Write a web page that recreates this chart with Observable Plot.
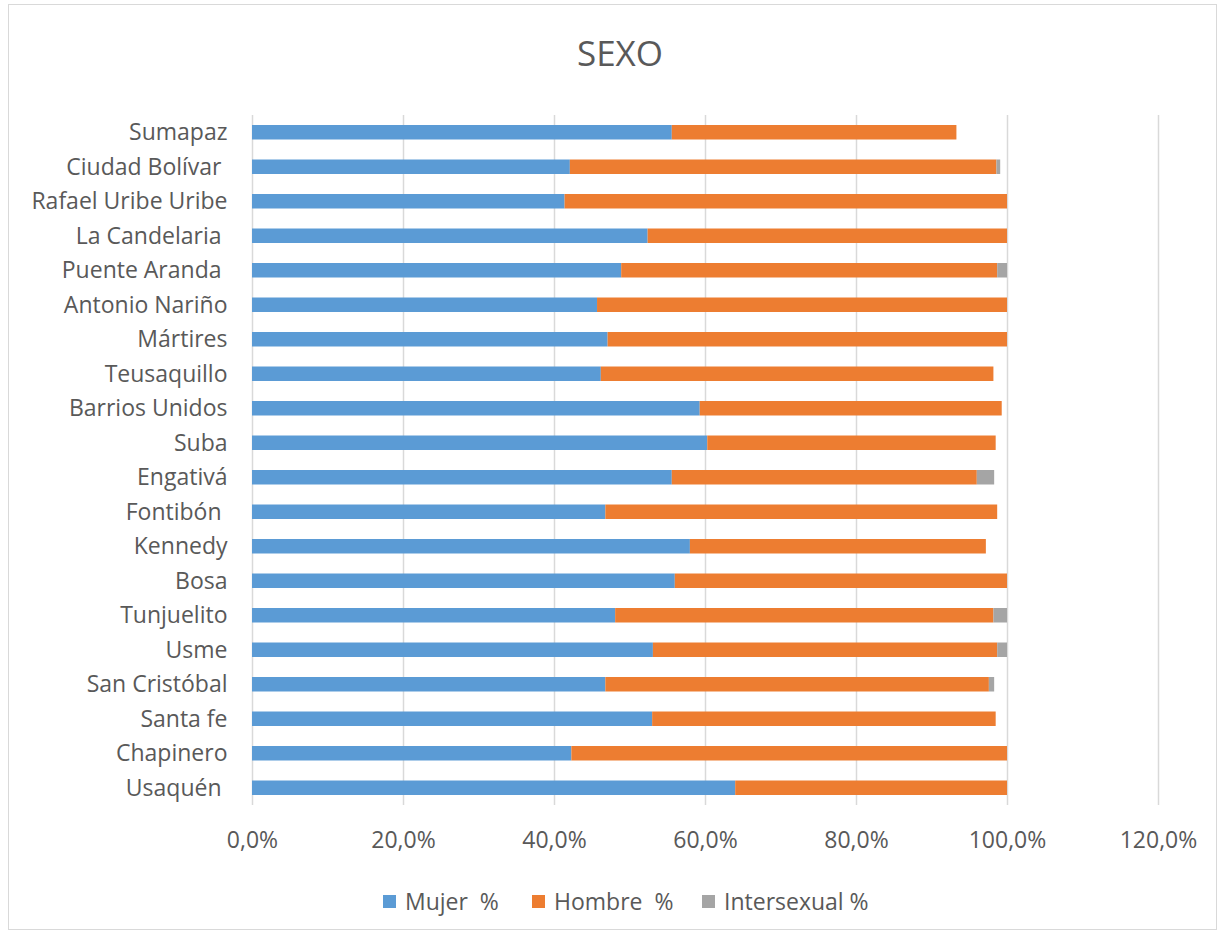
<!DOCTYPE html>
<html>
<head>
<meta charset="utf-8">
<script src="https://cdn.jsdelivr.net/npm/d3@7"></script>
<script src="https://cdn.jsdelivr.net/npm/@observablehq/plot@0.6"></script>
<style>
  html, body { margin: 0; padding: 0; background: #fff; }
  #wrap { position: relative; width: 1227px; height: 938px; font-family: "Open Sans", Lato, sans-serif; color: #595959; }
  #frame { position: absolute; left: 8px; top: 4px; width: 1209px; height: 926px; border: 1px solid #d9d9d9; box-sizing: border-box; }
  #title { position: absolute; left: 0; width: 1240px; top: 28px; text-align: center; font-size: 35px; line-height: 50px; color: #595959; }
  #chart { position: absolute; left: 0; top: 0; }
  #legend { position: absolute; left: 0; top: 885px; width: 1227px; height: 32px; font-size: 23px; white-space: pre; }
  .item { position: absolute; top: 0; height: 32px; display: flex; align-items: center; }
  .sw { width: 13px; height: 13px; margin-right: 9px; }
</style>
</head>
<body>
<div id="wrap">
  <div id="frame"></div>
  <div id="title">SEXO</div>
  <div id="chart"></div>
  <div id="legend"></div>
</div>
<script>
// Categories in Excel order (bottom to top)
const localidades = ["Usaquén\u00A0", "Chapinero", "Santa fe", "San Cristóbal", "Usme", "Tunjuelito", "Bosa", "Kennedy", "Fontibón\u00A0", "Engativá", "Suba", "Barrios Unidos", "Teusaquillo", "Mártires", "Antonio Nariño", "Puente Aranda\u00A0", "La Candelaria\u00A0", "Rafael Uribe Uribe", "Ciudad Bolívar\u00A0", "Sumapaz"];
const series = ["Mujer  %", "Hombre  %", "Intersexual %"];
const mujer =       [64.0, 42.3, 53.0, 46.8, 53.1, 48.1, 56.0, 58.0, 46.8, 55.6, 60.3, 59.3, 46.2, 47.1, 45.7, 48.9, 52.4, 41.4, 42.1, 55.6];
const hombre =      [36.0, 57.7, 45.5, 50.8, 45.6, 50.1, 44.0, 39.2, 51.9, 40.4, 38.2, 40.0, 52.0, 52.9, 54.3, 49.8, 47.6, 58.6, 56.5, 37.7];
const intersexual = [0.0,  0.0,  0.0,  0.7,  1.3,  1.8,  0.0,  0.0,  0.0,  2.3,  0.0,  0.0,  0.0,  0.0,  0.0,  1.3,  0.0,  0.0,  0.5,  0.0];
const xTicks = [0, 0.2, 0.4, 0.6, 0.8, 1.0, 1.2];
const colors = ["#5B9BD5", "#ED7D31", "#A5A5A5"];

const rows = [];
localidades.forEach((l, i) => {
  [mujer, hombre, intersexual].forEach((arr, j) => {
    rows.push({loc: l, serie: series[j], value: arr[i] / 100, order: j});
  });
});

const fmt = d => (d * 100).toFixed(1).replace(".", ",") + "%";

const plot = Plot.plot({
  width: 1227,
  height: 870,
  marginLeft: 252,
  marginRight: 69,
  marginTop: 115,
  marginBottom: 65,
  style: {fontFamily: "'Open Sans', Lato, sans-serif", fontSize: "23px", color: "#595959", background: "transparent"},
  x: {domain: [0, 1.2], ticks: xTicks, tickFormat: fmt, grid: false, label: null},
  y: {domain: localidades.slice().reverse(), paddingInner: 0.58, paddingOuter: 0.29, round: false, label: null},
  color: {domain: series, range: colors},
  marks: [
    Plot.ruleX(xTicks, {stroke: "#d9d9d9", strokeWidth: 1.5}),
    Plot.barX(rows, Plot.stackX({x: "value", y: "loc", fill: "serie", order: "order"})),
    Plot.axisX({ticks: xTicks, tickFormat: fmt, tickSize: 0, tickPadding: 26, fontSize: 23, fill: "#595959", label: null}),
    Plot.axisY({tickSize: 0, tickPadding: 25, fontSize: 23, fill: "#595959", label: null})
  ]
});
document.getElementById("chart").appendChild(plot);

const leg = document.getElementById("legend");
const legX = [383, 532, 702];
series.forEach((s, i) => {
  const it = document.createElement("div");
  it.className = "item";
  it.style.left = legX[i] + "px";
  const sw = document.createElement("div");
  sw.className = "sw";
  sw.style.background = colors[i];
  const tx = document.createElement("span");
  tx.textContent = s;
  it.appendChild(sw); it.appendChild(tx);
  leg.appendChild(it);
});
</script>
</body>
</html>
